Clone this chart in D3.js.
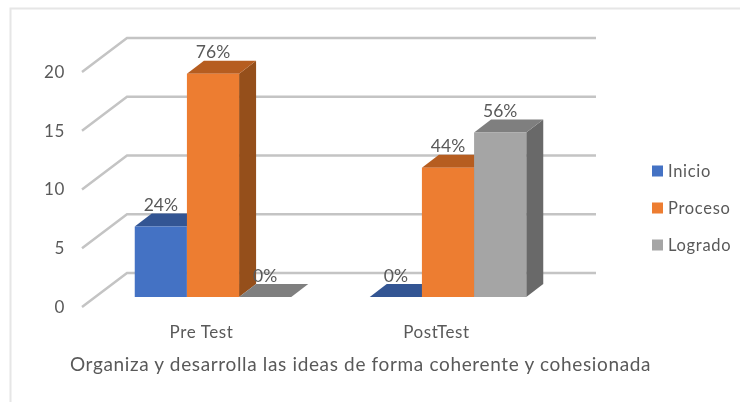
<!DOCTYPE html>
<html lang="en">
<head>
<meta charset="utf-8">
<title>Organiza y desarrolla las ideas</title>
<script src="https://d3js.org/d3.v7.min.js"></script>
<style>
html, body { margin: 0; padding: 0; background: #fff; }
svg { display: block; filter: blur(0.35px); }
text { font-family: Lato, "Open Sans", sans-serif; fill: #595959; }
</style>
</head>
<body>
<svg width="740" height="402"></svg>
<script>
const categories = ["Pre Test", "PostTest"];
const seriesNames = ["Inicio", "Proceso", "Logrado"];
const inicio = [6, 0];
const proceso = [19, 11];
const logrado = [0, 14];
const inicioLabels = ["24%", "0%"];
const procesoLabels = ["76%", "44%"];
const logradoLabels = ["0%", "56%"];
const yTicks = [0, 5, 10, 15, 20];
const chartTitle = "Organiza y desarrolla las ideas de forma coherente y cohesionada";

const seriesValues = [inicio, proceso, logrado];
const seriesLabels = [inicioLabels, procesoLabels, logradoLabels];
const front = ["#4472c4", "#ed7d31", "#a5a5a5"];
const top_ = ["#335593", "#b65d20", "#7f7f7f"];
const side = ["#2a4679", "#954f1b", "#696969"];

const svg = d3.select("svg");

// frame, only top and left show in the picture
svg.append("path")
    .attr("d", "M740,8.5H10.5V402")
    .attr("fill", "none")
    .attr("stroke", "#e6e6e6")
    .attr("stroke-width", 2);

const xScale = d3.scaleBand().domain(categories).range([84, 554]);
const yScale = d3.scaleLinear().domain([0, 20]).range([307, 72]);
const barScale = d3.scaleBand().domain(seriesNames).range([0, 156.5]);

// 3d offsets
const wallX = 45, wallY = 34, wallRight = 596;
const depthX = 17, depthY = 13;
const floorLift = 10;
const groupShift = 11.5;

// gridlines
svg.append("g").selectAll("path")
    .data(yTicks)
    .enter()
    .append("path")
    .attr("d", d => {
        const y = yScale(d);
        return "M" + 82 + "," + y + "L" + (82 + wallX) + "," + (y - wallY) + "H" + wallRight;
    })
    .attr("fill", "none")
    .attr("stroke", "#c4c4c4")
    .attr("stroke-width", 2.5);

// y axis
const leftAxis = d3.axisLeft(yScale).tickValues(yTicks).tickSize(0).tickPadding(0);
const yAxis = svg.append("g").attr("transform", "translate(65,0)").call(leftAxis);
yAxis.select(".domain").remove();
yAxis.selectAll("text").style("font-family", "Lato, sans-serif").style("font-size", "17px").attr("fill", "#595959").style("letter-spacing", "0.6px");

// x axis
const bottomAxis = d3.axisBottom(xScale).tickSize(0).tickPadding(0);
const xAxis = svg.append("g").attr("transform", "translate(0,326)").call(bottomAxis);
xAxis.select(".domain").remove();
xAxis.selectAll("text").style("font-family", "Lato, sans-serif").style("font-size", "17px").attr("fill", "#595959").style("letter-spacing", "0.6px");

const groupX = c => xScale(c) + xScale.bandwidth() / 2 - barScale.range()[1] / 2 + groupShift;

// bars, left to right so each front covers the side of the one before
const bars = [];
categories.forEach((c, ci) => {
    seriesNames.forEach((s, si) => {
        bars.push({ c, s, si, value: seriesValues[si][ci], label: seriesLabels[si][ci] });
    });
});

const barG = svg.append("g").selectAll("g")
    .data(bars)
    .enter()
    .append("g");

const geom = d => {
    const x0 = groupX(d.c) + barScale(d.s);
    const x1 = x0 + barScale.bandwidth();
    const y0 = yScale(0) - floorLift;
    const y1 = yScale(d.value) - floorLift;
    return { x0, x1, y0, y1 };
};

barG.append("path")
    .attr("fill", d => side[d.si])
    .attr("d", d => {
        const g = geom(d);
        return "M" + g.x1 + "," + g.y0 + "V" + g.y1 + "l" + depthX + "," + (-depthY) + "V" + (g.y0 - depthY) + "Z";
    });

barG.append("path")
    .attr("fill", d => top_[d.si])
    .attr("d", d => {
        const g = geom(d);
        return "M" + g.x0 + "," + g.y1 + "H" + g.x1 + "l" + depthX + "," + (-depthY) + "H" + (g.x0 + depthX) + "Z";
    });

barG.append("rect")
    .attr("fill", d => front[d.si])
    .attr("x", d => geom(d).x0)
    .attr("y", d => geom(d).y1)
    .attr("width", barScale.bandwidth())
    .attr("height", d => geom(d).y0 - geom(d).y1);

// labels on top of everything
svg.append("g").selectAll("text")
    .data(bars)
    .enter()
    .append("text")
    .attr("x", d => (geom(d).x0 + geom(d).x1) / 2)
    .attr("y", d => geom(d).y1 - 15.5)
    .attr("text-anchor", "middle")
    .style("font-size", "17.5px")
    .text(d => d.label);

// legend
const legendY = d3.scalePoint().domain(seriesNames).range([171, 245]);
const legend = svg.append("g").selectAll("g")
    .data(seriesNames)
    .enter()
    .append("g")
    .attr("transform", d => "translate(652," + legendY(d) + ")");

legend.append("rect")
    .attr("y", -5.5)
    .attr("width", 11)
    .attr("height", 11)
    .attr("fill", (d, i) => front[i]);

legend.append("text")
    .attr("x", 16)
    .attr("dy", "0.35em")
    .style("font-size", "16.5px")
    .style("letter-spacing", "0.7px")
    .text(d => d);

// title
svg.append("text")
    .attr("x", 360.5)
    .attr("y", 371)
    .attr("text-anchor", "middle")
    .style("font-size", "19px")
    .style("letter-spacing", "0.65px")
    .text(chartTitle);
</script>
</body>
</html>
